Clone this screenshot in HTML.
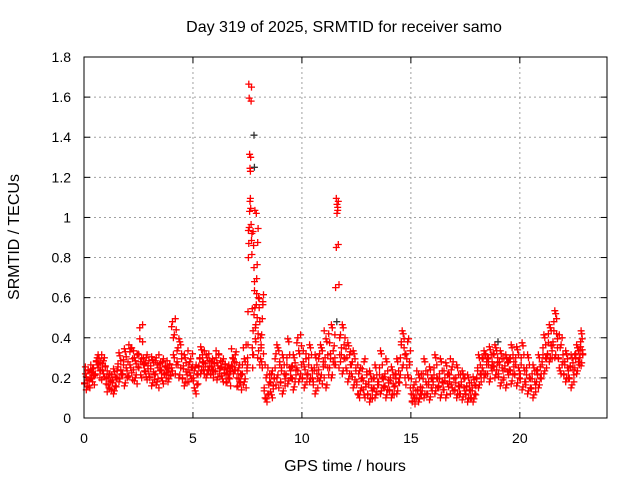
<!DOCTYPE html>
<html><head><meta charset="utf-8"><style>
html,body{margin:0;padding:0;background:#fff;}
svg{display:block;font-family:"Liberation Sans",sans-serif;}
</style></head><body>
<svg id="chart" width="640" height="480" viewBox="0 0 640 480">
<text x="344" y="32" font-size="16" text-anchor="middle">Day 319 of 2025, SRMTID for receiver samo</text>
<text x="345" y="471" font-size="16" text-anchor="middle">GPS time / hours</text>
<text x="0" y="0" font-size="16" text-anchor="middle" transform="translate(19,237) rotate(-90)">SRMTID / TECUs</text>
<g id="grid"></g>
<g id="ticks"></g>
<g id="points"></g>
<rect x="84" y="57" width="523" height="361" fill="none" stroke="#000" stroke-width="1"/>
</svg>
<script>
const xTicks=[0,5,10,15,20];
const yTicks=[0,0.2,0.4,0.6,0.8,1,1.2,1.4,1.6,1.8];
const yTickLabels=["0","0.2","0.4","0.6","0.8","1","1.2","1.4","1.6","1.8"];
const binHours=[0,0.25,0.5,0.75,1,1.25,1.5,1.75,2,2.25,2.5,2.75,3,3.25,3.5,3.75,4,4.25,4.5,4.75,5,5.25,5.5,5.75,6,6.25,6.5,6.75,7,7.25,7.5,7.75,8,8.25,8.5,8.75,9,9.25,9.5,9.75,10,10.25,10.5,10.75,11,11.25,11.5,11.75,12,12.25,12.5,12.75,13,13.25,13.5,13.75,14,14.25,14.5,14.75,15,15.25,15.5,15.75,16,16.25,16.5,16.75,17,17.25,17.5,17.75,18,18.25,18.5,18.75,19,19.25,19.5,19.75,20,20.25,20.5,20.75,21,21.25,21.5,21.75,22,22.25,22.5,22.75];
const binValues=[
[0.17,0.22,0.14,0.19,0.24,0.16],[0.15,0.2,0.23,0.18,0.25,0.21],[0.22,0.28,0.3,0.25,0.27,0.2],[0.24,0.19,0.27,0.22,0.3,0.26],
[0.17,0.13,0.2,0.15,0.22,0.18],[0.14,0.19,0.12,0.23,0.16,0.2],[0.2,0.27,0.18,0.31,0.24,0.22],[0.22,0.29,0.16,0.33,0.25,0.2],
[0.28,0.21,0.33,0.25,0.35,0.19],[0.24,0.3,0.2,0.27,0.17,0.32],[0.25,0.45,0.28,0.2,0.38,0.3],[0.27,0.23,0.3,0.19,0.26,0.22],
[0.2,0.26,0.16,0.29,0.23,0.19],[0.22,0.3,0.18,0.25,0.15,0.27],[0.24,0.2,0.28,0.17,0.22,0.26],[0.2,0.25,0.18,0.23,0.27,0.21],
[0.25,0.48,0.4,0.3,0.22,0.44],[0.28,0.35,0.2,0.38,0.25,0.32],[0.2,0.26,0.16,0.3,0.23,0.18],[0.24,0.18,0.28,0.21,0.25,0.32],
[0.2,0.15,0.25,0.12,0.22,0.17],[0.26,0.3,0.22,0.34,0.28,0.24],[0.22,0.27,0.2,0.3,0.24,0.32],[0.26,0.22,0.28,0.24,0.2,0.27],
[0.23,0.3,0.19,0.26,0.32,0.22],[0.25,0.21,0.28,0.18,0.24,0.27],[0.22,0.18,0.25,0.2,0.23,0.16],[0.26,0.3,0.22,0.28,0.24,0.33],
[0.2,0.16,0.25,0.18,0.22,0.14],[0.22,0.35,0.18,0.28,0.15,0.25],
[0.3,0.53,0.8,0.87,0.95,1.03,1.08,1.23,1.3,1.58,1.65,0.92,0.35,0.25],
[0.93,0.86,0.75,0.68,0.55,0.45,0.38,1.02,0.62,0.5,0.3,0.42],
[0.6,0.55,0.48,0.4,0.35,0.28,0.25,0.58,0.32],
[0.15,0.1,0.2,0.08,0.25,0.12],[0.18,0.13,0.22,0.1,0.16,0.2],[0.25,0.32,0.2,0.35,0.15,0.28],
[0.18,0.25,0.12,0.3,0.22,0.16],[0.22,0.3,0.17,0.38,0.25,0.2],[0.2,0.26,0.14,0.3,0.18,0.24],[0.25,0.4,0.18,0.32,0.22,0.36],
[0.2,0.28,0.15,0.24,0.32,0.18],[0.22,0.3,0.18,0.35,0.25,0.2],[0.18,0.25,0.12,0.3,0.22,0.15],[0.24,0.32,0.2,0.35,0.17,0.28],
[0.2,0.3,0.15,0.38,0.25,0.42],[0.25,0.32,0.2,0.45,0.28,0.36],[0.3,0.65,0.85,1.02,1.05,1.08,0.25,0.4],[0.28,0.35,0.22,0.45,0.3,0.4],
[0.25,0.3,0.18,0.36,0.22,0.33],[0.22,0.28,0.15,0.32,0.19,0.25],[0.18,0.12,0.22,0.1,0.25,0.15],[0.2,0.14,0.28,0.1,0.17,0.23],
[0.12,0.18,0.08,0.22,0.15,0.1],[0.15,0.2,0.1,0.25,0.13,0.18],[0.18,0.25,0.12,0.32,0.2,0.15],[0.16,0.22,0.1,0.28,0.14,0.19],
[0.14,0.2,0.1,0.24,0.17,0.12],[0.16,0.22,0.12,0.28,0.18,0.2],[0.3,0.38,0.25,0.42,0.35,0.2],[0.32,0.25,0.38,0.2,0.28,0.15],
[0.12,0.08,0.15,0.1,0.07,0.18],[0.1,0.14,0.08,0.2,0.12,0.22],[0.15,0.22,0.1,0.28,0.18,0.12],[0.12,0.18,0.09,0.24,0.15,0.2],
[0.18,0.25,0.12,0.3,0.2,0.15],[0.16,0.22,0.1,0.28,0.18,0.14],[0.14,0.2,0.1,0.26,0.17,0.22],[0.18,0.12,0.24,0.15,0.28,0.2],
[0.14,0.2,0.1,0.25,0.16,0.12],[0.12,0.18,0.09,0.22,0.15,0.2],[0.12,0.16,0.08,0.2,0.14,0.1],[0.1,0.15,0.08,0.19,0.12,0.16],
[0.2,0.25,0.15,0.3,0.22,0.18],[0.25,0.3,0.2,0.32,0.22,0.28],[0.22,0.3,0.18,0.34,0.25,0.28],[0.26,0.32,0.2,0.35,0.24,0.3],
[0.22,0.28,0.16,0.32,0.25,0.19],[0.2,0.26,0.15,0.3,0.23,0.28],[0.24,0.3,0.17,0.35,0.22,0.28],[0.22,0.3,0.16,0.34,0.25,0.2],
[0.22,0.3,0.14,0.36,0.25,0.18],[0.18,0.25,0.12,0.3,0.2,0.15],[0.15,0.22,0.1,0.25,0.18,0.13],[0.18,0.24,0.15,0.3,0.2,0.22],
[0.28,0.35,0.22,0.4,0.3,0.25],[0.32,0.42,0.28,0.45,0.36,0.3],[0.38,0.48,0.3,0.52,0.42,0.35],[0.3,0.25,0.35,0.22,0.4,0.28],
[0.22,0.28,0.18,0.32,0.25,0.2],[0.2,0.26,0.15,0.3,0.24,0.18],[0.25,0.32,0.22,0.35,0.28,0.3],[0.3,0.38,0.26,0.42,0.34,0.32]
];
const blackHours=[7.8,7.82,11.6,19.0];
const blackValues=[1.41,1.25,0.48,0.38];

const NS="http://www.w3.org/2000/svg";
const X0=84,X1=607,Y0=418,Y1=57,XMAX=24,YMAX=1.8;
function sx(h){return X0+(X1-X0)*h/XMAX;}
function sy(v){return Y0-(Y0-Y1)*v/YMAX;}
function mk(tag,attrs,parent){const e=document.createElementNS(NS,tag);for(const k in attrs)e.setAttribute(k,attrs[k]);parent.appendChild(e);return e;}
const grid=document.getElementById('grid'),ticks=document.getElementById('ticks'),pts=document.getElementById('points');
xTicks.forEach(t=>{
  const x=sx(t);
  if(t>0){const g=mk('line',{x1:x,y1:Y1,x2:x,y2:Y0,stroke:'#a0a0a0','stroke-dasharray':'2,3'},grid);
    
    }
  mk('line',{x1:x,y1:Y0,x2:x,y2:Y0-6,stroke:'#000'},ticks);
  mk('line',{x1:x,y1:Y1,x2:x,y2:Y1+6,stroke:'#000'},ticks);
  const l=mk('text',{x:x,y:443,'font-size':14,'text-anchor':'middle'},ticks);
  l.textContent=String(t);
  
  
});
yTicks.forEach((t,i)=>{
  const y=sy(t);
  if(i>0&&i<yTicks.length-1){const g=mk('line',{x1:X0,y1:y,x2:X1,y2:y,stroke:'#a0a0a0','stroke-dasharray':'2,3'},grid);
    
    }
  mk('line',{x1:X0,y1:y,x2:X0+6,y2:y,stroke:'#000'},ticks);
  mk('line',{x1:X1,y1:y,x2:X1-6,y2:y,stroke:'#000'},ticks);
  const l=mk('text',{x:71,y:y+5,'font-size':14,'text-anchor':'end'},ticks);
  l.textContent=yTickLabels[i];
  
  
});
function plus(h,v,color,parent){
  const x=sx(h),y=sy(v);
  const p=mk('path',{d:`M${(x-3.5).toFixed(1)} ${y.toFixed(1)}h7M${x.toFixed(1)} ${(y-3.5).toFixed(1)}v7`,stroke:color,'stroke-width':1.3,fill:'none'},parent);
  
  
}
binHours.forEach((h,i)=>{
  const vals=binValues[i];const n=vals.length;
  const w=(i===binHours.length-1)?0.15:0.25;
  vals.forEach((v,j)=>{
    plus(h+(j+0.5)/n*w,v,'#ff0000',pts);
    plus(h+(n-j-0.5)/n*w,v+0.015,'#ff0000',pts);
  });
});
blackHours.forEach((h,i)=>plus(h,blackValues[i],'#333',pts));
</script>
</body></html>
